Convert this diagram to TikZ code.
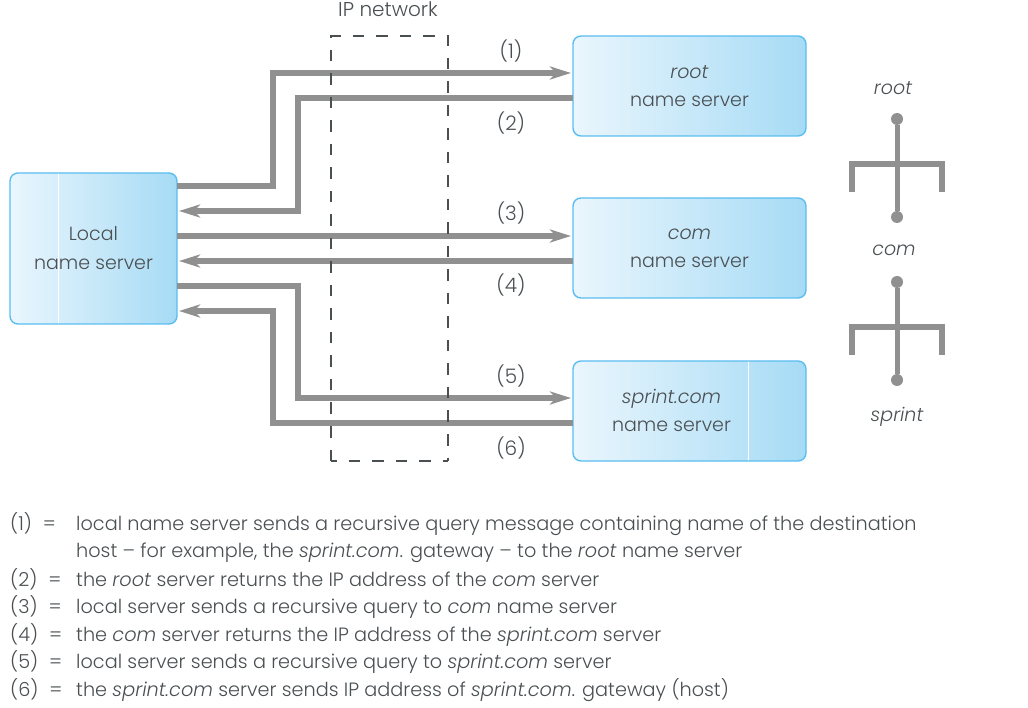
\documentclass[tikz,border=0pt]{standalone}
\usepackage{fontspec}
\setmainfont{Poppins}[UprightFont={* Light},ItalicFont={* Light Italic},BoldFont={* Medium}]
\usetikzlibrary{arrows.meta}
\definecolor{boxline}{HTML}{5BBDF0}
\definecolor{boxleft}{HTML}{EAF6FD}
\definecolor{boxright}{HTML}{A6DBF5}
\definecolor{wiregray}{HTML}{909090}
\definecolor{inkgray}{HTML}{4A4F52}
\tikzset{
  server/.style={draw=boxline,line width=1.4pt,rounded corners=8pt,left color=boxleft,right color=boxright,
    inner sep=0pt,outer sep=0pt,minimum width=#1,align=center,text=inkgray,font=\fontsize{19}{28}\selectfont},
  seam/.style={path picture={\draw[white,line width=.6pt]
    ([xshift=#1]path picture bounding box.south west) -- ([xshift=#1]path picture bounding box.north west);}},
  wire/.style={draw=wiregray,line width=5.3pt,line join=miter},
  arrowwire/.style={wire,-{Stealth[length=21pt,width=13pt,inset=6pt]},shorten >=2pt},
  netbox/.style={draw=inkgray,line width=1.3pt,dash pattern=on 11.5pt off 12pt},
  tree/.style={draw=wiregray,line width=5pt},
  dotend/.style={circle,fill=wiregray,minimum size=12pt,inner sep=0pt},
  lab/.style={text=inkgray,font=\fontsize{20}{24}\selectfont,inner sep=0pt},
  ital/.style={text=inkgray,font=\fontsize{19}{24}\itshape\selectfont,inner sep=0pt},
  legend/.style={text=inkgray,font=\fontsize{19.25}{24}\selectfont,inner sep=0pt,anchor=base west},
}
\newcommand{\keyeq}[1]{(#1)\hspace{11pt}=}
\begin{document}
\begin{tikzpicture}[x=1pt,y=-1pt]
\useasboundingbox (0,0) rectangle (1028,708);
% servers
\node[server=167pt,minimum height=151pt,seam=48pt,text depth=0pt] (local) at (93.5,248.5) {\raisebox{1.5pt}{Local}\\\raisebox{1pt}{name server}};
\node[server=233pt,minimum height=100pt] (root) at (689.5,86) {\textit{root}\\name server};
\node[server=233pt,minimum height=100pt] (com) at (689.5,248) {\textit{com}\\name server};
\node[server=233pt,minimum height=100pt,seam=175pt] (sprint) at (689.5,411) {};
\node[lab,align=center,font=\fontsize{19}{28}\selectfont] (sprinttext) at (671.5,410) {\textit{sprint.com}\\name server};
% connectors
\draw[arrowwire] (local.east |- 0,186) -| (273,73) -- (root.west |- 0,73);
\draw[arrowwire] (root.west |- 0,98) -| (298,211) -- (local.east |- 0,211);
\draw[arrowwire] (local.east |- 0,236) -- (com.west |- 0,236);
\draw[arrowwire] (com.west |- 0,261) -- (local.east |- 0,261);
\draw[arrowwire] (local.east |- 0,286) -| (298,398) -- (sprint.west |- 0,398);
\draw[arrowwire] (sprint.west |- 0,423) -| (273,311) -- (local.east |- 0,311);
% IP network
\draw[netbox] (331,461) -- (331,36) -- (448,36) -- (448,461);
\draw[netbox,dash phase=6pt] (331,461) -- (448,461);
\node[lab] (ipnet) at (388,9) {IP network};
% arrow labels
\node[lab] (l1) at (511,51) {(1)};
\node[lab] (l2) at (511,123) {(2)};
\node[lab] (l3) at (511,213) {(3)};
\node[lab] (l4) at (511,285) {(4)};
\node[lab] (l5) at (511,376) {(5)};
\node[lab] (l6) at (511,448) {(6)};
% hierarchy
\node[ital] (troot) at (893,88) {root};
\node[ital] (tcom) at (894,250) {com};
\node[ital] (tsprint) at (897,417) {sprint};
\node[dotend] (a1) at (897,119) {};
\node[dotend] (a2) at (897,217) {};
\node[dotend] (b1) at (897,282) {};
\node[dotend] (b2) at (897,380) {};
\draw[tree] (a1) -- (a2);
\draw[tree] (b1) -- (b2);
\draw[tree,line width=6pt] (852,192) -- (852,164) -- (942,164) -- (942,192);
\draw[tree,line width=6pt] (852,355) -- (852,327) -- (942,327) -- (942,355);
% legend
\node[legend] (k1) at (10,530) {\keyeq{1}};
\node[legend] (t1) at (76,530) {local name server sends a recursive query message containing name of the destination};
\node[legend] (t1b) at (76,557) {host – for example, the \textit{sprint.com}. gateway – to the \textit{root} name server};
\node[legend] (k2) at (10,586) {\keyeq{2}};
\node[legend] (t2) at (76,586) {the \textit{root} server returns the IP address of the \textit{com} server};
\node[legend] (k3) at (10,613) {\keyeq{3}};
\node[legend] (t3) at (76,613) {local server sends a recursive query to \textit{com} name server};
\node[legend] (k4) at (10,641) {\keyeq{4}};
\node[legend] (t4) at (76,641) {the \textit{com} server returns the IP address of the \textit{sprint.com} server};
\node[legend] (k5) at (10,668) {\keyeq{5}};
\node[legend] (t5) at (76,668) {local server sends a recursive query to \textit{sprint.com} server};
\node[legend] (k6) at (10,696) {\keyeq{6}};
\node[legend] (t6) at (76,696) {the \textit{sprint.com} server sends IP address of \textit{sprint.com}. gateway (host)};
\end{tikzpicture}
\end{document}
